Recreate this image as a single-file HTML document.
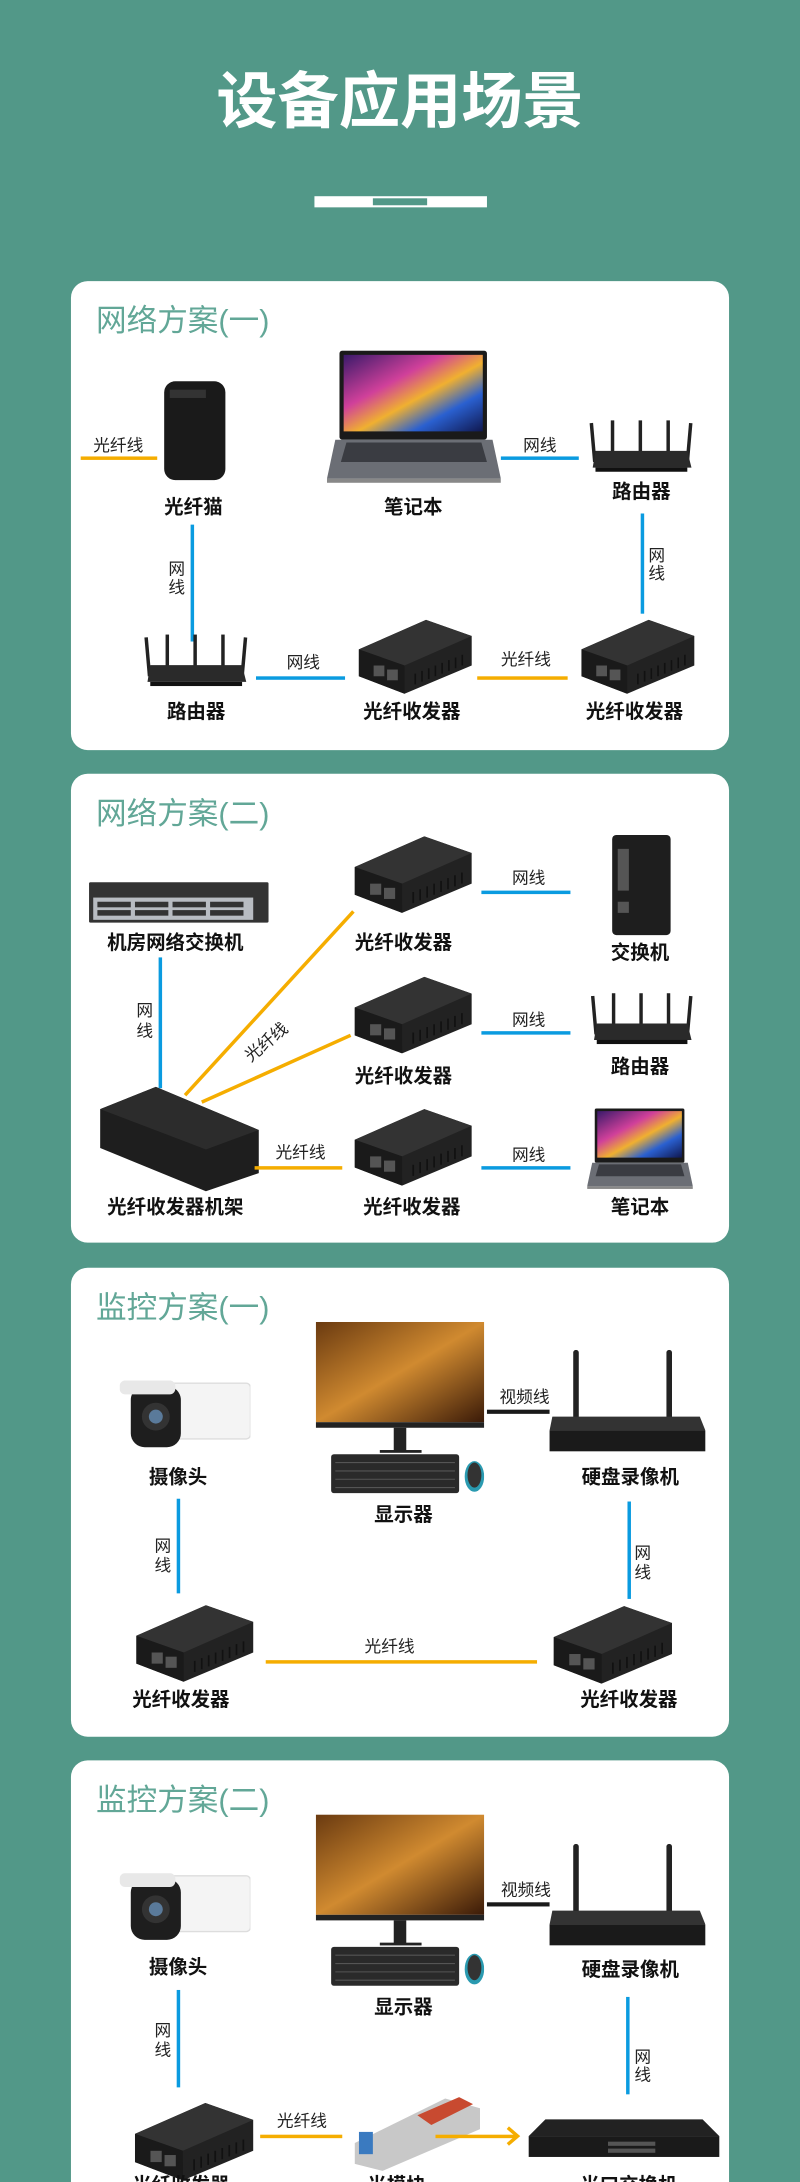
<!DOCTYPE html>
<html><head><meta charset="utf-8"><style>
html,body{margin:0;padding:0;background:#529888;}
svg{display:block;}
text{font-family:"Liberation Sans","Noto Sans CJK SC",sans-serif;}
.t{font-size:22px;fill:#62a797;}
.l{font-size:14px;font-weight:bold;fill:#111;text-anchor:middle;}
.s{font-size:12px;fill:#222;text-anchor:middle;}
</style></head><body>
<svg width="800" height="2182" viewBox="0 0 575 1568" preserveAspectRatio="none" xmlns="http://www.w3.org/2000/svg">
<defs>
<linearGradient id="scr" x1="0" y1="0" x2="1" y2="1"><stop offset="0" stop-color="#3a1a6a"/><stop offset="0.35" stop-color="#d0409a"/><stop offset="0.55" stop-color="#f0b030"/><stop offset="0.75" stop-color="#2a60d0"/><stop offset="1" stop-color="#101850"/></linearGradient>
<linearGradient id="game" x1="0" y1="0" x2="1" y2="1"><stop offset="0" stop-color="#6a3a10"/><stop offset="0.5" stop-color="#d08a30"/><stop offset="1" stop-color="#3a1a08"/></linearGradient>
<symbol id="tr" viewBox="0 0 87 57">
<polygon points="2,24 52,2 86,14 86,36 36,57 2,44" fill="#222"/>
<polygon points="2,24 52,2 86,14 36,36" fill="#333"/>
<polygon points="2,24 36,36 36,57 2,44" fill="#1a1a1a"/>
<rect x="13" y="36" width="8" height="8" fill="#555"/><rect x="23" y="39" width="8" height="8" fill="#555"/>
<g stroke="#111" stroke-width="1.2"><line x1="44" y1="42" x2="44" y2="50"/><line x1="49" y1="40" x2="49" y2="48"/><line x1="54" y1="38" x2="54" y2="46"/><line x1="59" y1="36" x2="59" y2="44"/><line x1="64" y1="34" x2="64" y2="42"/><line x1="69" y1="32" x2="69" y2="40"/><line x1="74" y1="30" x2="74" y2="38"/><line x1="79" y1="28" x2="79" y2="36"/></g>
</symbol>
<symbol id="rt" viewBox="0 0 78 38">
<g fill="#222"><rect x="3" y="2" width="2.5" height="28" transform="rotate(-5 4 16)"/><rect x="17" y="0" width="2.5" height="24"/><rect x="37" y="0" width="2.5" height="24"/><rect x="57" y="0" width="2.5" height="24"/><rect x="72" y="2" width="2.5" height="28" transform="rotate(5 73 16)"/></g>
<polygon points="6,22 72,22 75,34 4,34" fill="#2a2a2a"/><rect x="6" y="34" width="66" height="3" fill="#111"/>
</symbol>
<symbol id="lap" viewBox="0 0 125 95">
<rect x="9" y="0" width="106" height="64" rx="2" fill="#1a1a1a"/>
<rect x="12" y="3" width="100" height="55" fill="url(#scr)"/>
<polygon points="6,64 119,64 125,92 0,92" fill="#6b6e75"/>
<polygon points="14,66 111,66 115,80 10,80" fill="#3a3c42"/>
<rect x="0" y="92" width="125" height="3" fill="#888"/>
</symbol>
<symbol id="cam" viewBox="0 0 94 52">
<rect x="22" y="2" width="72" height="40" rx="3" fill="#f4f4f4" stroke="#ddd"/>
<rect x="8" y="4" width="36" height="44" rx="10" fill="#1e1e1e"/>
<rect x="0" y="0" width="40" height="10" rx="4" fill="#e8e8e8"/>
<circle cx="26" cy="26" r="10" fill="#333"/><circle cx="26" cy="26" r="5" fill="#5a7a9a"/>
</symbol>
<symbol id="mon" viewBox="0 0 121 125">
<rect x="0" y="0" width="121" height="72" fill="url(#game)"/>
<rect x="0" y="72" width="121" height="4" fill="#222"/>
<rect x="56" y="76" width="9" height="17" fill="#222"/><rect x="46" y="92" width="30" height="2" fill="#222"/>
<rect x="11" y="95" width="92" height="28" rx="2" fill="#2a2a2a"/>
<g stroke="#555" stroke-width="0.8"><line x1="14" y1="101" x2="100" y2="101"/><line x1="14" y1="107" x2="100" y2="107"/><line x1="14" y1="113" x2="100" y2="113"/><line x1="14" y1="119" x2="100" y2="119"/></g>
<ellipse cx="114" cy="111" rx="7" ry="11" fill="#2a9ab0"/><ellipse cx="114" cy="110" rx="5" ry="9" fill="#333"/>
</symbol>
<symbol id="nvr" viewBox="0 0 114 73">
<rect x="19" y="0" width="4" height="54" rx="2" fill="#222"/><rect x="86" y="0" width="4" height="54" rx="2" fill="#222"/>
<polygon points="4,48 110,48 114,58 2,58" fill="#333"/>
<rect x="2" y="58" width="112" height="15" fill="#1a1a1a"/>
</symbol>
</defs>
<rect width="575" height="1568" fill="#529888"/>
<text x="287.5" y="88" text-anchor="middle" font-size="44" font-weight="bold" fill="#fff">设备应用场景</text>
<rect x="226" y="141" width="124" height="8" fill="#fff"/><rect x="268" y="142.5" width="39" height="5" fill="#529888"/>

<!-- card1 -->
<rect x="51" y="202" width="473" height="337" rx="12" fill="#fff"/>
<text class="t" x="69" y="238">网络方案(一)</text>
<text class="s" x="85" y="324">光纤线</text><rect x="58" y="328" width="55" height="2.5" fill="#f5ad00"/>
<rect x="118" y="274" width="44" height="71" rx="8" fill="#1a1a1a"/><rect x="122" y="280" width="26" height="6" fill="#333"/>
<text class="l" x="139" y="369">光纤猫</text>
<use href="#lap" x="235" y="252" width="125" height="95"/>
<text class="l" x="297" y="369">笔记本</text>
<text class="s" x="388" y="324">网线</text><rect x="360" y="328" width="56" height="2.5" fill="#0a9be0"/>
<use href="#rt" x="422" y="302" width="78" height="38"/>
<text class="l" x="461" y="358">路由器</text>
<rect x="460.5" y="369" width="2.5" height="72" fill="#0a9be0"/>
<text class="s" x="472" y="403">网</text><text class="s" x="472" y="416">线</text>
<rect x="137" y="377" width="2.5" height="84" fill="#0a9be0"/>
<text class="s" x="127" y="413">网</text><text class="s" x="127" y="426">线</text>
<use href="#rt" x="102" y="456" width="78" height="38"/>
<text class="l" x="141" y="516">路由器</text>
<text class="s" x="218" y="480">网线</text><rect x="184" y="486" width="64" height="2.5" fill="#0a9be0"/>
<use href="#tr" x="256" y="443" width="84" height="56"/>
<text class="l" x="296" y="516">光纤收发器</text>
<text class="s" x="378" y="478">光纤线</text><rect x="343" y="486" width="65" height="2.5" fill="#f5ad00"/>
<use href="#tr" x="416" y="443" width="84" height="56"/>
<text class="l" x="456" y="516">光纤收发器</text>

<!-- card2 -->
<rect x="51" y="556" width="473" height="337" rx="12" fill="#fff"/>
<text class="t" x="69" y="592">网络方案(二)</text>
<rect x="64" y="634" width="129" height="29" rx="1" fill="#333"/><rect x="67" y="645" width="115" height="16" fill="#b8bcc2"/>
<g fill="#333"><rect x="70" y="648" width="24" height="4"/><rect x="97" y="648" width="24" height="4"/><rect x="124" y="648" width="24" height="4"/><rect x="151" y="648" width="24" height="4"/><rect x="70" y="654" width="24" height="4"/><rect x="97" y="654" width="24" height="4"/><rect x="124" y="654" width="24" height="4"/><rect x="151" y="654" width="24" height="4"/></g>
<text class="l" x="126" y="682">机房网络交换机</text>
<rect x="114" y="688" width="2.5" height="94" fill="#0a9be0"/>
<text class="s" x="104" y="730">网</text><text class="s" x="104" y="745">线</text>
<polygon points="72,797 112,781 186,812 186,843 148,856 72,825" fill="#1e1e1e"/>
<polygon points="72,797 112,781 186,812 148,826" fill="#2c2c2c"/>
<text class="l" x="126" y="872">光纤收发器机架</text>
<line x1="133" y1="787" x2="254" y2="655" stroke="#f5ad00" stroke-width="2.5"/>
<line x1="145" y1="792" x2="252" y2="744" stroke="#f5ad00" stroke-width="2.5"/>
<text class="s" x="0" y="0" transform="translate(194,752) rotate(-40)">光纤线</text>
<text class="s" x="216" y="832">光纤线</text><rect x="183" y="838" width="63" height="2.5" fill="#f5ad00"/>
<use href="#tr" x="253" y="598" width="87" height="59"/><text class="l" x="290" y="682">光纤收发器</text>
<use href="#tr" x="253" y="700" width="87" height="57"/><text class="l" x="290" y="778">光纤收发器</text>
<use href="#tr" x="253" y="795" width="87" height="57"/><text class="l" x="296" y="872">光纤收发器</text>
<text class="s" x="380" y="635">网线</text><rect x="346" y="640" width="64" height="2.5" fill="#0a9be0"/>
<text class="s" x="380" y="737">网线</text><rect x="346" y="741" width="64" height="2.5" fill="#0a9be0"/>
<text class="s" x="380" y="834">网线</text><rect x="346" y="838" width="64" height="2.5" fill="#0a9be0"/>
<rect x="440" y="600" width="42" height="72" rx="3" fill="#1e1e1e"/><rect x="444" y="610" width="8" height="30" fill="#555"/><rect x="444" y="648" width="8" height="8" fill="#555"/>
<text class="l" x="460" y="689">交换机</text>
<use href="#rt" x="423" y="713" width="77" height="39"/><text class="l" x="460" y="771">路由器</text>
<use href="#lap" x="422" y="795" width="76" height="61"/><text class="l" x="460" y="872">笔记本</text>

<!-- card3 -->
<rect x="51" y="911" width="473" height="337" rx="12" fill="#fff"/>
<text class="t" x="69" y="947">监控方案(一)</text>
<use href="#cam" x="86" y="992" width="94" height="52"/>
<text class="l" x="128" y="1066">摄像头</text>
<use href="#mon" x="227" y="950" width="121" height="125"/>
<text class="l" x="290" y="1093">显示器</text>
<text class="s" x="377" y="1008">视频线</text><rect x="350" y="1013" width="45" height="3" fill="#1a1a1a"/>
<use href="#nvr" x="393" y="970" width="114" height="73"/>
<text class="l" x="453" y="1066">硬盘录像机</text>
<rect x="127" y="1077" width="2.5" height="68" fill="#0a9be0"/>
<text class="s" x="117" y="1115">网</text><text class="s" x="117" y="1129">线</text>
<rect x="451" y="1079" width="2.5" height="70" fill="#0a9be0"/>
<text class="s" x="462" y="1120">网</text><text class="s" x="462" y="1134">线</text>
<use href="#tr" x="96" y="1150" width="87" height="60"/><text class="l" x="130" y="1226">光纤收发器</text>
<use href="#tr" x="396" y="1152" width="88" height="58"/><text class="l" x="452" y="1226">光纤收发器</text>
<text class="s" x="280" y="1187">光纤线</text><rect x="191" y="1193" width="195" height="2.5" fill="#f5ad00"/>

<!-- card4 -->
<rect x="51" y="1265" width="473" height="330" rx="12" fill="#fff"/>
<text class="t" x="69" y="1301">监控方案(二)</text>
<use href="#cam" x="86" y="1346" width="94" height="52"/>
<text class="l" x="128" y="1418">摄像头</text>
<use href="#mon" x="227" y="1304" width="121" height="125"/>
<text class="l" x="290" y="1447">显示器</text>
<text class="s" x="378" y="1362">视频线</text><rect x="350" y="1367" width="45" height="3" fill="#1a1a1a"/>
<use href="#nvr" x="393" y="1325" width="114" height="73"/>
<text class="l" x="453" y="1420">硬盘录像机</text>
<rect x="127" y="1430" width="2.5" height="70" fill="#0a9be0"/>
<text class="s" x="117" y="1463">网</text><text class="s" x="117" y="1477">线</text>
<rect x="450" y="1435" width="2.5" height="70" fill="#0a9be0"/>
<text class="s" x="462" y="1482">网</text><text class="s" x="462" y="1495">线</text>
<use href="#tr" x="95" y="1508" width="88" height="60"/>
<text class="s" x="217" y="1528">光纤线</text><rect x="187" y="1534" width="59" height="2.5" fill="#f5ad00"/>
<polygon points="255,1540 320,1508 345,1515 345,1530 275,1560 255,1555" fill="#c8c8c8"/>
<polygon points="300,1520 330,1507 340,1512 310,1527" fill="#c84a30"/>
<rect x="258" y="1532" width="10" height="16" fill="#3a7ac0"/>
<rect x="313" y="1534" width="58" height="2.5" fill="#f5ad00"/>
<polyline points="365,1529 372,1535 365,1541" fill="none" stroke="#f5ad00" stroke-width="2.5"/>
<polygon points="392,1523 505,1523 517,1535 380,1535" fill="#222"/>
<rect x="380" y="1535" width="137" height="15" fill="#1a1a1a"/>
<g fill="#555"><rect x="437" y="1539" width="34" height="3"/><rect x="437" y="1544" width="34" height="3"/></g>
<text class="l" x="130" y="1575">光纤收发器</text>
<text class="l" x="285" y="1575">光模块</text>
<text class="l" x="452" y="1575">光口交换机</text>
</svg>
</body></html>
